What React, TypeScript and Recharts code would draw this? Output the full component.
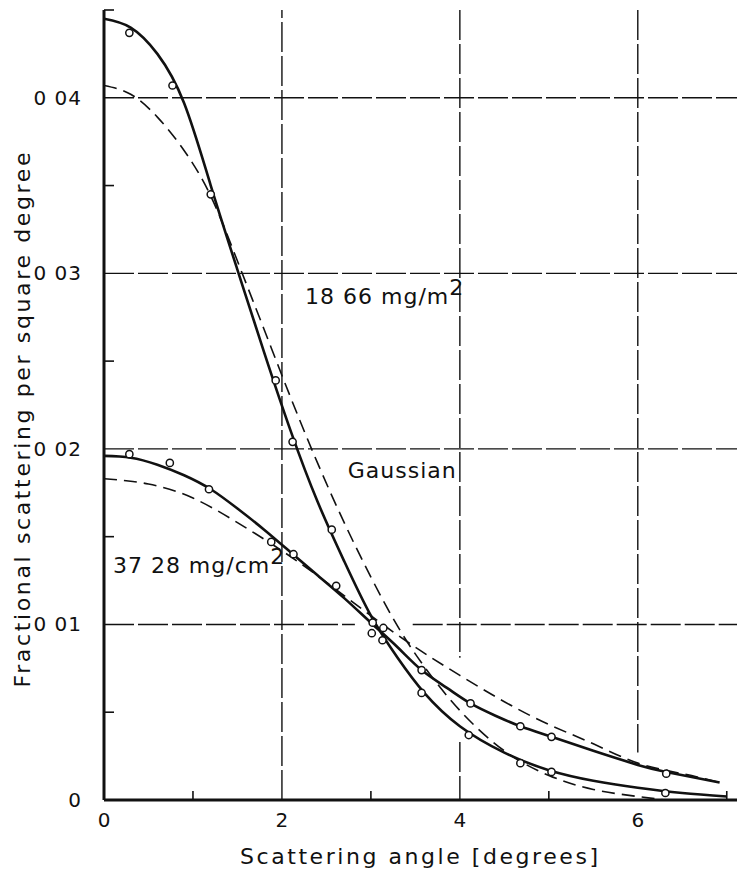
import {
  ComposedChart,
  Line,
  Scatter,
  XAxis,
  YAxis,
  ReferenceLine,
  ReferenceDot,
  Label,
} from "recharts";

// curves (angle in degrees, fractional scattering per sq degree)
const narrowFitX = [0, 0.3, 0.6, 0.9, 1.2, 1.5, 1.8, 2.1, 2.4, 2.7, 3.0, 3.3, 3.6, 4.0, 4.5, 5.0, 5.5, 6.0, 6.5, 7.0];
const narrowFitY = [0.0445, 0.044, 0.0425, 0.0397, 0.035, 0.0302, 0.0255, 0.021, 0.017, 0.0136, 0.0105, 0.0081, 0.0061, 0.0042, 0.0027, 0.0017, 0.0011, 0.0007, 0.0004, 0.0002];

const narrowGaussX = [0, 0.3, 0.6, 0.9, 1.2, 1.5, 1.8, 2.1, 2.4, 2.7, 3.0, 3.3, 3.6, 4.0, 4.5, 5.0, 5.5, 6.0, 6.3];
const narrowGaussY = [0.0407, 0.0402, 0.0389, 0.037, 0.0344, 0.0307, 0.0268, 0.0229, 0.0192, 0.0158, 0.0127, 0.0099, 0.0076, 0.0051, 0.0028, 0.0014, 0.0006, 0.0002, 0];

const broadFitX = [0, 0.3, 0.6, 0.9, 1.2, 1.5, 1.8, 2.1, 2.4, 2.7, 3.0, 3.3, 3.57, 3.85, 4.12, 4.4, 4.68, 5.03, 5.5, 6.0, 6.32, 6.92];
const broadFitY = [0.0196, 0.0195, 0.0191, 0.0185, 0.0177, 0.0166, 0.0154, 0.0141, 0.0128, 0.0115, 0.0101, 0.0087, 0.0074, 0.0064, 0.0055, 0.0048, 0.0042, 0.0036, 0.0028, 0.002, 0.0016, 0.001];

const broadGaussX = [0, 0.5, 1.0, 1.5, 2.0, 2.5, 3.0, 3.5, 4.0, 4.5, 5.0, 5.5, 6.0, 6.5, 6.96];
const broadGaussY = [0.0183, 0.018, 0.0172, 0.0158, 0.0142, 0.0124, 0.0105, 0.0087, 0.0071, 0.0056, 0.0043, 0.0032, 0.0021, 0.0015, 0.00095];

// measured points
const narrowPtsX = [0.285, 0.77, 1.2, 1.93, 2.12, 2.56, 3.01, 3.13, 3.57, 4.1, 4.68, 5.03, 6.31];
const narrowPtsY = [0.0437, 0.0407, 0.0345, 0.0239, 0.0204, 0.0154, 0.0095, 0.0091, 0.0061, 0.0037, 0.0021, 0.0016, 0.0004];
const broadPtsX = [0.285, 0.74, 1.18, 1.88, 2.13, 2.61, 3.02, 3.14, 3.57, 4.12, 4.68, 5.03, 6.32];
const broadPtsY = [0.0197, 0.0192, 0.0177, 0.0147, 0.014, 0.0122, 0.0101, 0.0098, 0.0074, 0.0055, 0.0042, 0.0036, 0.0015];

const xTicks = [0, 1, 2, 3, 4, 5, 6, 7];
const xTickLabels = ["0", "", "2", "", "4", "", "6", ""];
const yTicks = [0, 0.005, 0.01, 0.015, 0.02, 0.025, 0.03, 0.035, 0.04, 0.045];
const yTickLabels = ["0", "", "0 01", "", "0 02", "", "0 03", "", "0 04", ""];
const gridY = [0.02, 0.03, 0.04];

const zip = (xs: number[], ys: number[]) => xs.map((x, i) => ({ x, y: ys[i] }));

const INK = "#111";
const FONT = "'DejaVu Sans', sans-serif";

const BottomTick = ({ x, y, index }: any) => (
  <g>
    {index % 2 === 1 && <line x1={x} x2={x} y1={y} y2={y - 9} stroke={INK} strokeWidth={1.6} />}
    <text x={x} y={y + 27} textAnchor="middle" fontSize={20} fontFamily={FONT} fill={INK}>
      {xTickLabels[index]}
    </text>
  </g>
);

const TopTick = ({ x, y, index }: any) =>
  index % 2 === 1 ? <line x1={x} x2={x} y1={y} y2={y + 9} stroke={INK} strokeWidth={1.6} /> : <g />;

const LeftTick = ({ x, y, index }: any) => (
  <g>
    {index % 2 === 1 && <line x1={x} x2={x + 10} y1={y} y2={y} stroke={INK} strokeWidth={1.6} />}
    <text x={x - 22} y={y + 7} textAnchor="end" fontSize={20} fontFamily={FONT} fill={INK} letterSpacing={1}>
      {yTickLabels[index]}
    </text>
  </g>
);

const RightTick = ({ x, y, index }: any) =>
  index % 2 === 1 ? <line x1={x} x2={x - 9} y1={y} y2={y} stroke={INK} strokeWidth={1.6} /> : <g />;

const Circle = ({ cx, cy }: any) => (
  <circle cx={cx} cy={cy} r={3.6} fill="#fff" stroke={INK} strokeWidth={1.5} />
);

const note = (main: string, sup?: string) => (props: any) => {
  const { x, y } = props.viewBox;
  return (
    <text x={x} y={y + 8} fontSize={22} fontFamily={FONT} fill={INK} letterSpacing={1}>
      {main}
      {sup && <tspan dy={-9}>{sup}</tspan>}
    </text>
  );
};

export default function App() {
  const gridStyle = { stroke: INK, strokeWidth: 1.4, strokeDasharray: "30 4" };
  return (
    <div style={{ margin: -8, width: 745, height: 881, overflow: "hidden", background: "#fff" }}>
      <ComposedChart width={760} height={881} margin={{ top: 10, right: 11, bottom: 51, left: 44 }}>
        <XAxis
          xAxisId={0}
          type="number"
          dataKey="x"
          domain={[0, 7.25]}
          ticks={xTicks}
          tick={<BottomTick />}
          tickLine={false}
          tickSize={0}
          tickMargin={0}
          height={30}
          axisLine={{ stroke: INK, strokeWidth: 3 }}
          allowDataOverflow
        >
          <Label
            content={(p: any) => (
              <text
                x={p.viewBox.x + 315}
                y={p.viewBox.y + 64}
                textAnchor="middle"
                fontSize={22}
                fontFamily={FONT}
                fill={INK}
                textLength={358}
              >
                Scattering angle  [degrees]
              </text>
            )}
          />
        </XAxis>
        <XAxis
          xAxisId="top"
          orientation="top"
          type="number"
          dataKey="x"
          domain={[0, 7.25]}
          ticks={xTicks}
          tick={<TopTick />}
          tickLine={false}
          tickSize={0}
          tickMargin={0}
          height={0}
          axisLine={{ stroke: INK, strokeWidth: 2.5 }}
          allowDataOverflow
        />
        <YAxis
          yAxisId={0}
          type="number"
          domain={[0, 0.045]}
          ticks={yTicks}
          tick={<LeftTick />}
          tickLine={false}
          tickSize={0}
          tickMargin={0}
          width={60}
          axisLine={{ stroke: INK, strokeWidth: 3 }}
          allowDataOverflow
        >
          <Label
            content={(p: any) => {
              const cx = 22;
              const cy = p.viewBox.y + p.viewBox.height / 2 + 15;
              return (
                <text
                  x={cx}
                  y={cy}
                  transform={`rotate(-90 ${cx} ${cy})`}
                  textAnchor="middle"
                  dominantBaseline="central"
                  fontSize={22}
                  fontFamily={FONT}
                  fill={INK}
                  textLength={535}
                >
                  Fractional scattering per square degree
                </text>
              );
            }}
          />
        </YAxis>
        <YAxis
          yAxisId="right"
          orientation="right"
          type="number"
          domain={[0, 0.045]}
          ticks={yTicks}
          tick={<RightTick />}
          tickLine={false}
          tickSize={0}
          tickMargin={0}
          width={0}
          axisLine={{ stroke: INK, strokeWidth: 2.5 }}
          allowDataOverflow
        />

        {/* grid lines, with the gaps the draughtsman left round the curves */}
        <ReferenceLine x={2} {...gridStyle} />
        <ReferenceLine segment={[{ x: 4, y: 0.045 }, { x: 4, y: 0.0081 }]} {...gridStyle} />
        <ReferenceLine segment={[{ x: 4, y: 0.0033 }, { x: 4, y: 0 }]} {...gridStyle} />
        <ReferenceLine segment={[{ x: 6, y: 0.045 }, { x: 6, y: 0.0027 }]} {...gridStyle} />
        {gridY.map((v) => (
          <ReferenceLine key={`gy${v}`} y={v} {...gridStyle} />
        ))}
        <ReferenceLine segment={[{ x: 0, y: 0.01 }, { x: 2.82, y: 0.01 }]} {...gridStyle} />
        <ReferenceLine segment={[{ x: 3.47, y: 0.01 }, { x: 7.25, y: 0.01 }]} {...gridStyle} />

        <Line data={zip(narrowGaussX, narrowGaussY)} dataKey="y" type="natural" stroke={INK} strokeWidth={1.6} strokeDasharray="13 7" dot={false} isAnimationActive={false} />
        <Line data={zip(broadGaussX, broadGaussY)} dataKey="y" type="natural" stroke={INK} strokeWidth={1.6} strokeDasharray="13 7" dot={false} isAnimationActive={false} />
        <Line data={zip(narrowFitX, narrowFitY)} dataKey="y" type="natural" stroke={INK} strokeWidth={2.6} dot={false} isAnimationActive={false} />
        <Line data={zip(broadFitX, broadFitY)} dataKey="y" type="natural" stroke={INK} strokeWidth={2.6} dot={false} isAnimationActive={false} />
        <Scatter data={zip(narrowPtsX, narrowPtsY)} dataKey="y" shape={<Circle />} isAnimationActive={false} />
        <Scatter data={zip(broadPtsX, broadPtsY)} dataKey="y" shape={<Circle />} isAnimationActive={false} />

        <ReferenceDot x={2.26} y={0.0287} r={0} label={note("18 66 mg/m", "2")} />
        <ReferenceDot x={2.74} y={0.0188} r={0} label={note("Gaussian")} />
        <ReferenceDot x={0.1} y={0.0134} r={0} label={note("37 28 mg/cm", "2")} />
      </ComposedChart>
    </div>
  );
}
